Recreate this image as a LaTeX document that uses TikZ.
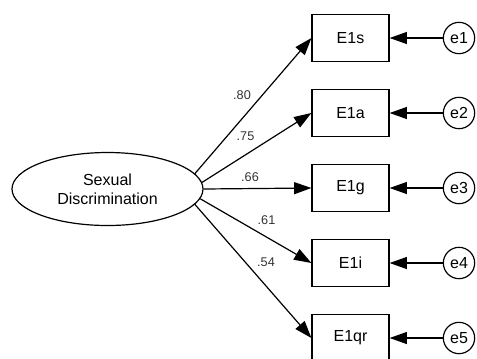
\documentclass[tikz,border=0pt]{standalone}
\usepackage{fontspec}
\setmainfont{Liberation Sans}
\usetikzlibrary{arrows.meta,shapes.geometric}

\tikzset{every picture/.style={line width=0.9pt}}
\tikzset{
  latent/.style={draw, ellipse, minimum width=143.25pt, minimum height=54.75pt, inner sep=0pt, align=center, font=\fontsize{12}{14}\selectfont},
  obsbox/.style={draw, rectangle, minimum width=57.75pt, minimum height=35.25pt, inner sep=0pt, font=\fontsize{12}{14}\selectfont},
  errcirc/.style={draw, circle, minimum size=23.5pt, inner sep=0pt, font=\fontsize{12}{14}\selectfont},
  loading/.style={inner sep=0.75pt, font=\fontsize{9.5}{11}\selectfont, text=black!80},
  path arrow/.style={-{Triangle[length=13pt,width=9pt]}},
}

\begin{document}
\begin{tikzpicture}[x=0.75pt,y=0.75pt,yscale=-1,xscale=1]
\useasboundingbox (0,0) rectangle (477,358);

%Shape: Ellipse
\node [latent] (sd) at (107.5,189) {Sexual\\Discrimination};

%Shape: Rectangle
\node [obsbox] (s) at (350.5,38) {E1s};
%Shape: Rectangle
\node [obsbox] (a) at (350.5,113) {E1a};
%Shape: Rectangle
\node [obsbox] (g) at (350.5,188) {E1g};
%Shape: Rectangle
\node [obsbox] (i) at (350.5,263) {E1i};
%Shape: Rectangle
\node [obsbox] (qr) at (350.5,338) {E1qr};

%Shape: Circle
\node [errcirc] (e1) at (459,38) {e1};
%Shape: Circle
\node [errcirc] (e2) at (459,113) {e2};
%Shape: Circle
\node [errcirc] (e3) at (459,188) {e3};
%Shape: Circle
\node [errcirc] (e4) at (459,263) {e4};
%Shape: Circle
\node [errcirc] (e5) at (459,338) {e5};

%Straight Lines
\draw [path arrow] (sd.10) -- (s.west);
\draw [path arrow] (sd.4) -- (a.west);
\draw [path arrow] (sd.east) -- (g.west);
\draw [path arrow] (sd.-6) -- (i.west);
\draw [path arrow] (sd.-10) -- (qr.west);

%Straight Lines
\draw [path arrow] (e1) -- (s);
\draw [path arrow] (e2) -- (a);
\draw [path arrow] (e3) -- (g);
\draw [path arrow] (e4) -- (i);
\draw [path arrow] (e5) -- (qr);

% Text Node
\node [loading] (l1) at (242,95) {.80};
% Text Node
\node [loading] (l2) at (245.5,136) {.75};
% Text Node
\node [loading] (l3) at (250,177) {.66};
% Text Node
\node [loading] (l4) at (266.5,220.5) {.61};
% Text Node
\node [loading] (l5) at (266,262.5) {.54};

\end{tikzpicture}
\end{document}
